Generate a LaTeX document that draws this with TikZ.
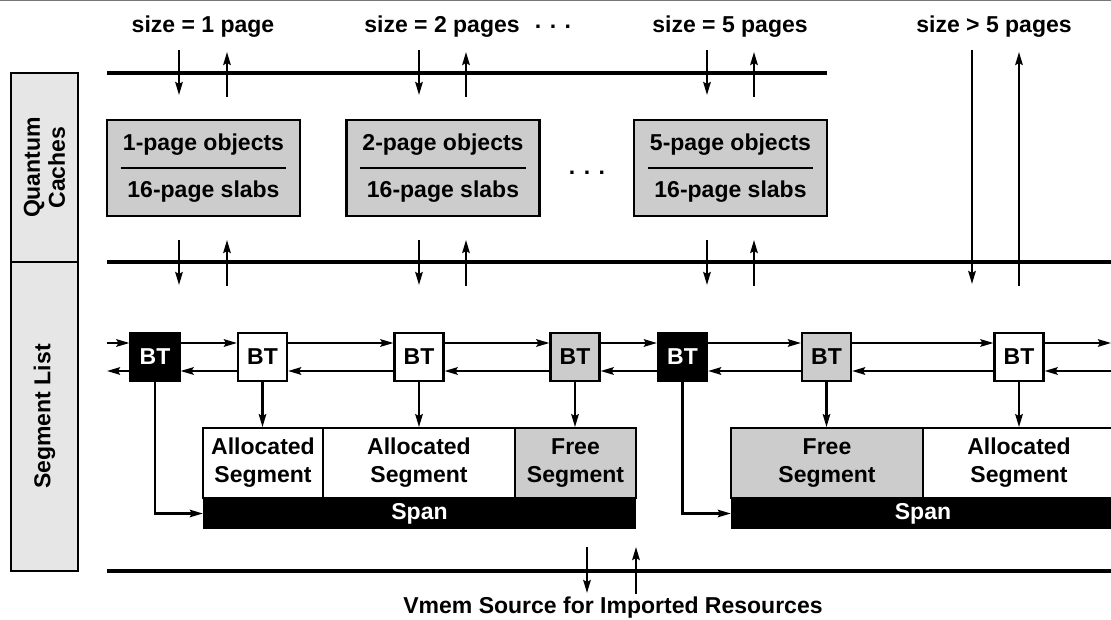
\documentclass[tikz,border=0pt]{standalone}
\usepackage{fontspec}
\setmainfont{Liberation Sans}
\usetikzlibrary{arrows.meta}
\definecolor{cachefill}{HTML}{CCCCCC}
\definecolor{labelfill}{HTML}{E6E6E6}
\definecolor{rulegray}{HTML}{777777}

\begin{document}
\begin{tikzpicture}[x=1pt,y=-1pt,
  font=\fontsize{23}{28}\selectfont\bfseries,
  >={Stealth[length=13pt,width=7.5pt,inset=2pt]},
  bus/.style={line width=4.8pt},
  link/.style={line width=2.2pt},
  txt/.style={inner sep=0pt},
  cache/.style={draw,line width=2.2pt,fill=cachefill,minimum width=193pt,minimum height=96pt,inner sep=0pt},
  btbox/.style={draw,line width=2.2pt,minimum width=49pt,minimum height=48pt,inner sep=0pt},
  segbox/.style={draw,line width=1.8pt,minimum height=70pt,inner sep=0pt,align=center},
  spanbar/.style={fill=black,text=white,minimum height=31pt,inner sep=0pt},
  sidebox/.style={draw,line width=2.4pt,fill=labelfill,minimum width=67pt,inner sep=0pt},
]
\useasboundingbox (0,0) rectangle (1111,620);
\draw[rulegray,line width=1.5pt] (0,0.75) -- (1111,0.75);

% side labels
\node[sidebox,minimum height=189pt] (qc) at (44.5,167.5) {};
\node[txt,rotate=90,align=center,font=\fontsize{23}{25}\selectfont\bfseries] (qct) at (qc.center) {Quantum\\Caches};
\node[sidebox,minimum height=309pt] (sl) at (44.5,416.5) {};
\node[txt,rotate=90] (slt) at (sl.center) {Segment List};

% size headings
\node[txt] (s1) at (203,27) {size = 1 page};
\node[txt] (s2) at (442,27) {size = 2 pages};
\node[txt] (sd) at (553,27) {. . .};
\node[txt] (s5) at (730,27) {size = 5 pages};
\node[txt] (s6) at (994,27) {size > 5 pages};

% buses
\coordinate (b1l) at (107,73);  \coordinate (b1r) at (827,73);
\coordinate (b2l) at (107,262); \coordinate (b2r) at (1111,262);
\coordinate (b3l) at (107,571); \coordinate (b3r) at (1111,571);
\draw[bus] (b1l) -- (b1r);
\draw[bus] (b2l) -- (b2r);
\draw[bus] (b3l) -- (b3r);

% quantum caches
\foreach \n/\cx/\k in {1/203.5/1, 2/443/2, 5/730.5/5} {
  \node[cache] (c\n) at (\cx,168) {};
  \node[txt] (c\n o) at (\cx,145) {\k-page objects};
  \node[txt] (c\n s) at (\cx,192) {16-page slabs};
  \draw[line width=2pt] ([xshift=15pt]c\n.west) -- ([xshift=-15pt]c\n.east);
}
\node[txt] (cd) at (587,173) {. . .};

% allocation and free paths through the caches
\foreach \n/\d/\u in {1/179/227, 2/419/466, 5/707/754} {
  \coordinate (ta\n) at (\d,50);  \coordinate (tb\n) at (\d,95);
  \coordinate (tc\n) at (\u,97);  \coordinate (td\n) at (\u,52);
  \coordinate (ma\n) at (\d,240); \coordinate (mb\n) at (\d,285);
  \coordinate (mc\n) at (\u,286); \coordinate (md\n) at (\u,240);
  \draw[link,->] (ta\n) -- (tb\n);
  \draw[link,->] (tc\n) -- (td\n);
  \draw[link,->] (ma\n) -- (mb\n);
  \draw[link,->] (mc\n) -- (md\n);
}
\coordinate (la) at (972,50);  \coordinate (lb) at (972,284);
\coordinate (lc) at (1019,286); \coordinate (ld) at (1019,52);
\draw[link,->] (la) -- (lb);
\draw[link,->] (lc) -- (ld);

% boundary tags
\node[btbox,fill=black,text=white] (bt1) at (155,357) {BT};
\node[btbox,fill=white] (bt2) at (262.5,357) {BT};
\node[btbox,fill=white] (bt3) at (419,357) {BT};
\node[btbox,fill=cachefill] (bt4) at (575,357) {BT};
\node[btbox,fill=black,text=white] (bt5) at (682.5,357) {BT};
\node[btbox,fill=cachefill] (bt6) at (826.5,357) {BT};
\node[btbox,fill=white] (bt7) at (1019,357) {BT};

\coordinate (fin) at (107,343);  \coordinate (bout) at (107,371);
\coordinate (fout) at (1111,343); \coordinate (bin) at (1111,371);
\draw[link,->] (fin) -- ([yshift=14pt]bt1.west);
\draw[link,->] ([yshift=-14pt]bt1.west) -- (bout);
\foreach \a/\b in {1/2,2/3,3/4,4/5,5/6,6/7} {
  \draw[link,->] ([yshift=14pt]bt\a.east) -- ([yshift=14pt]bt\b.west);
  \draw[link,->] ([yshift=-14pt]bt\b.west) -- ([yshift=-14pt]bt\a.east);
}
\draw[link,->] ([yshift=14pt]bt7.east) -- (fout);
\draw[link,->] (bin) -- ([yshift=-14pt]bt7.east);

% segments and spans
\node[segbox,fill=white,minimum width=120pt] (a1) at (263,463) {Allocated\\Segment};
\node[segbox,fill=white,minimum width=192pt] (a2) at (419,463) {Allocated\\Segment};
\node[segbox,fill=cachefill,minimum width=121pt] (f1) at (575.5,463) {Free\\Segment};
\node[spanbar,minimum width=433pt] (sp1) at (419.5,513.5) {Span};

\node[segbox,fill=cachefill,minimum width=192pt] (f2) at (827,463) {Free\\Segment};
\node[segbox,fill=white,minimum width=192pt] (a3) at (1019,463) {Allocated\\Segment};
\node[spanbar,minimum width=384pt] (sp2) at (923,513.5) {Span};

\draw[link,->] (bt2.south) -- (bt2.south |- a1.north);
\draw[link,->] (bt3.south) -- (bt3.south |- a2.north);
\draw[link,->] (bt4.south) -- (bt4.south |- f1.north);
\draw[link,->] (bt6.south) -- (bt6.south |- f2.north);
\draw[link,->] (bt7.south) -- (bt7.south |- a3.north);
\draw[link,->] (bt1.south) |- (sp1.west);
\draw[link,->] (bt5.south) |- (sp2.west);

% vmem source
\node[txt] (vm) at (613,608) {Vmem Source for Imported Resources};
\coordinate (va) at (587,547); \coordinate (vb) at (587,593);
\coordinate (vc) at (636,594); \coordinate (vd) at (636,547);
\draw[link,->] (va) -- (vb);
\draw[link,->] (vc) -- (vd);
\end{tikzpicture}
\end{document}
